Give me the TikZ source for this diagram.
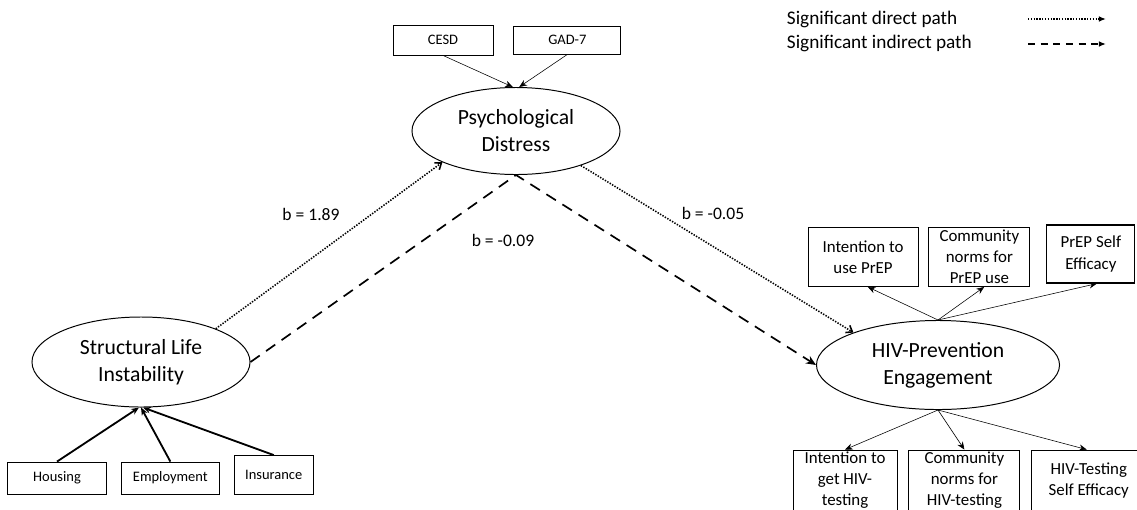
\documentclass[tikz,border=0pt]{standalone}
\usepackage{fontspec}
\setmainfont{Carlito}
\usepackage{tikz}
\usetikzlibrary{arrows.meta,positioning,shapes.geometric}

\tikzset{
  latent/.style={draw, ellipse, line width=0.7pt, inner sep=0pt, align=center,
    font=\fontsize{15.4}{19.2}\selectfont},
  obsbox/.style={draw, rectangle, line width=0.6pt, inner sep=0pt,
    font=\fontsize{10.3}{12}\selectfont},
  indbox/.style={draw, rectangle, line width=0.6pt, inner sep=0pt, align=center,
    font=\fontsize{12}{15}\selectfont},
  loading/.style={-{Stealth[length=5.5pt,width=4.5pt]}, line width=0.4pt},
  direct/.style={line width=1.1pt, dash pattern=on 1pt off 1pt,
    -{Straight Barb[length=4pt,width=6pt]}},
  indirect/.style={line width=1.2pt, dash pattern=on 8pt off 5.5pt,
    -{Stealth[length=7pt,width=6pt]}},
  coef/.style={font=\fontsize{12.5}{15}\selectfont},
}

\begin{document}
\begin{tikzpicture}[x=0.025cm, y=-0.025cm, node distance=0.35cm]
  \useasboundingbox (0,0) rectangle (1137,509);
  \clip (0,0) rectangle (1137,509);

  % latent variables
  \node[latent, minimum width=5.2cm, minimum height=2.175cm] (PD) at (516,131) {Psychological\\Distress};
  \node[latent, minimum width=5.45cm, minimum height=2.25cm] (SLI) at (141,362) {Structural Life\\Instability};
  \node[latent, minimum width=6.075cm, minimum height=2.225cm] (HPE) at (938,365) {HIV-Prevention\\Engagement};

  % indicators
  \node[obsbox, minimum width=2.5cm, minimum height=0.75cm] (CESD) at (443,40) {CESD};
  \node[obsbox, minimum width=2.675cm, minimum height=0.7cm, right=0.5cm of CESD] (GAD) {GAD-7};

  \node[obsbox, minimum width=2.475cm, minimum height=0.8cm] (Hou) at (57,478) {Housing};
  \node[obsbox, minimum width=2.45cm, minimum height=0.8cm, right=of Hou] (Emp) {Employment};
  \node[obsbox, minimum width=1.975cm, minimum height=0.975cm, right=of Emp, yshift=0.075cm] (Ins) {Insurance};

  \node[indbox, minimum width=2.75cm, minimum height=1.475cm] (IntP) at (863,257) {Intention to\\use PrEP};
  \node[indbox, minimum width=2.525cm, minimum height=1.475cm, right=0.25cm of IntP] (ComP) {Community\\norms for\\PrEP use};
  \node[indbox, minimum width=2.2cm, minimum height=1.45cm, line width=0.8pt, right=0.4cm of ComP, yshift=0.075cm] (SEP) {PrEP Self\\Efficacy};

  \node[indbox, minimum width=2.6cm, minimum height=1.525cm] (IntT) at (845,480.5) {Intention to\\get HIV-\\testing};
  \node[indbox, minimum width=2.775cm, minimum height=1.525cm, right=0.275cm of IntT] (ComT) {Community\\norms for\\HIV-testing};
  \node[indbox, minimum width=2.85cm, minimum height=1.525cm, right=0.275cm of ComT] (SET) {HIV-Testing\\Self Efficacy};

  % coefficients
  \node[coef] (b1) at (311,214) {b = 1.89};
  \node[coef] (b2) at (503,240) {b = -0.09};
  \node[coef] (b3) at (713,213) {b = -0.05};

  % legend
  \node[anchor=west, font=\fontsize{13.7}{16}\selectfont] (Ldir) at (782,19) {Significant direct path};
  \node[anchor=west, font=\fontsize{13.7}{16}\selectfont] (Lind) at (782,43) {Significant indirect path};
  \coordinate (d1) at (1028,19);
  \coordinate (d2) at (1106,19);
  \coordinate (i1) at (1028,44);
  \coordinate (i2) at (1106,44);
  \draw[line width=1pt, dash pattern=on 1pt off 1pt, -{Latex[length=5pt,width=4pt]}] (d1) -- (d2);
  \draw[line width=1.2pt, dash pattern=on 5pt off 4pt, -{Latex[length=5pt,width=4pt]}] (i1) -- (i2);

  % measurement paths
  \path[loading]
    (CESD.south) edge ([xshift=-0.08cm]PD.north)
    (GAD.south) edge ([xshift=0.08cm]PD.north)
  ;
  \path[loading, line width=1.3pt]
    (Hou.north) edge ([xshift=-0.05cm]SLI.south)
    (Emp.north) edge (SLI.south)
    (Ins.north) edge ([xshift=0.05cm]SLI.south)
  ;
  \path[loading]
    (HPE.north) edge ([xshift=0.12cm]IntP.south)
    (HPE.north) edge ([xshift=0.12cm]ComP.south)
    (HPE.north) edge ([xshift=0.15cm]SEP.south)
    (HPE.south) edge (IntT.north)
    (HPE.south) edge (ComT.north)
    (HPE.south) edge ([xshift=-0.05cm]SET.north)
  ;

  % structural paths
  \draw[direct] (SLI.24) -- (PD.203);
  \draw[direct] (PD.-28) -- (HPE.159);
  \draw[indirect] (SLI.east) -- (PD.south) -- (HPE.west);
\end{tikzpicture}
\end{document}
